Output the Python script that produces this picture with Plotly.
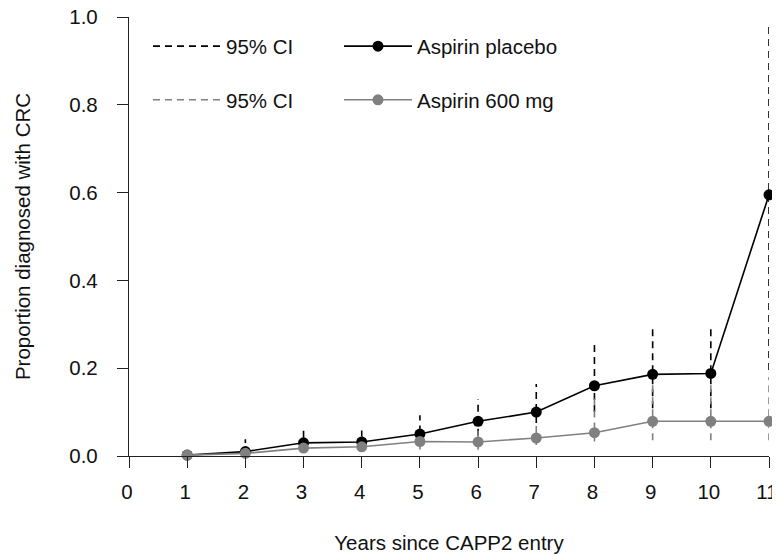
import plotly.graph_objects as go

years = [1, 2, 3, 4, 5, 6, 7, 8, 9, 10, 11]
placebo = [0.002, 0.010, 0.030, 0.032, 0.050, 0.079, 0.100, 0.160, 0.186, 0.188, 0.595]
aspirin = [0.002, 0.006, 0.018, 0.021, 0.033, 0.032, 0.041, 0.053, 0.079, 0.079, 0.079]

placebo_lo = [0.001, 0.002, 0.014, 0.015, 0.026, 0.046, 0.075, 0.100, 0.109, 0.109, 0.196]
placebo_hi = [0.004, 0.038, 0.065, 0.065, 0.093, 0.129, 0.164, 0.254, 0.292, 0.292, 0.986]
aspirin_lo = [0.001, 0.001, 0.008, 0.010, 0.015, 0.014, 0.025, 0.033, 0.036, 0.036, 0.036]
aspirin_hi = [0.003, 0.020, 0.040, 0.045, 0.060, 0.060, 0.070, 0.134, 0.170, 0.170, 0.180]

x_ticks = list(range(0, 12))
y_ticks = [0.0, 0.2, 0.4, 0.6, 0.8, 1.0]

BLACK = "#000000"
GRAY = "#808080"
FONT = "Liberation Sans, Arial, Helvetica, sans-serif"
FS = 20.5
MSIZE = 11


def ci_xy(xs, lo, hi):
    cx, cy = [], []
    for x, a, b in zip(xs, lo, hi):
        cx += [x, x, None]
        cy += [a, b, None]
    return cx, cy


fig = go.Figure()

px, py = ci_xy(years, placebo_lo, placebo_hi)
fig.add_trace(go.Scatter(x=px, y=py, mode="lines", name="95% CI",
                         line=dict(color=BLACK, width=1.6, dash="7px,5px"),
                         legend="legend", legendgroup="a", cliponaxis=False))
ax, ay = ci_xy(years, aspirin_lo, aspirin_hi)
fig.add_trace(go.Scatter(x=ax, y=ay, mode="lines", name="95% CI",
                         line=dict(color=GRAY, width=1.6, dash="7px,5px"),
                         legend="legend", legendgroup="b", cliponaxis=False))
fig.add_trace(go.Scatter(x=years, y=placebo, mode="lines+markers", name="Aspirin placebo",
                         line=dict(color=BLACK, width=1.6),
                         marker=dict(color=BLACK, size=MSIZE),
                         legend="legend2", legendgroup="c", cliponaxis=False))
fig.add_trace(go.Scatter(x=years, y=aspirin, mode="lines+markers", name="Aspirin 600 mg",
                         line=dict(color=GRAY, width=1.6),
                         marker=dict(color=GRAY, size=MSIZE),
                         legend="legend2", legendgroup="d", cliponaxis=False))

axis_common = dict(showline=True, linecolor="#222", linewidth=1.3, ticks="outside",
                   ticklen=11, tickwidth=1.3, tickcolor="#222", showgrid=False,
                   zeroline=False, automargin=False, ticklabeloverflow="allow",
                   tickfont=dict(size=FS, color="#111", family=FONT))

fig.update_layout(
    width=780, height=555,
    margin=dict(l=121, r=19, t=9, b=107),
    plot_bgcolor="white", paper_bgcolor="white",
    font=dict(family=FONT, size=FS, color="#111"),
    showlegend=True,
    xaxis=dict(range=[0, 11], tickvals=x_ticks, ticktext=[str(t) for t in x_ticks],
               title=dict(text="Years since CAPP2 entry", standoff=33,
                          font=dict(size=FS, family=FONT, color="#111")),
               ticklabelstandoff=6, ticklabelshift=-2, **axis_common),
    yaxis=dict(range=[0, 1], tickvals=y_ticks, ticktext=[f"{t:.1f}" for t in y_ticks],
               title=dict(text="Proportion diagnosed with CRC", standoff=33,
                          font=dict(size=FS, family=FONT, color="#111")),
               ticklabelstandoff=15, **axis_common),
    legend=dict(x=0.0297, y=0.9788, xanchor="left", yanchor="top", bgcolor="rgba(0,0,0,0)",
                font=dict(size=FS, family=FONT, color="#111"), tracegroupgap=24,
                itemwidth=68),
    legend2=dict(x=0.3281, y=0.9788, xanchor="left", yanchor="top", bgcolor="rgba(0,0,0,0)",
                 font=dict(size=FS, family=FONT, color="#111"), tracegroupgap=24,
                 itemwidth=68),
)

fig.write_html("out.html")
